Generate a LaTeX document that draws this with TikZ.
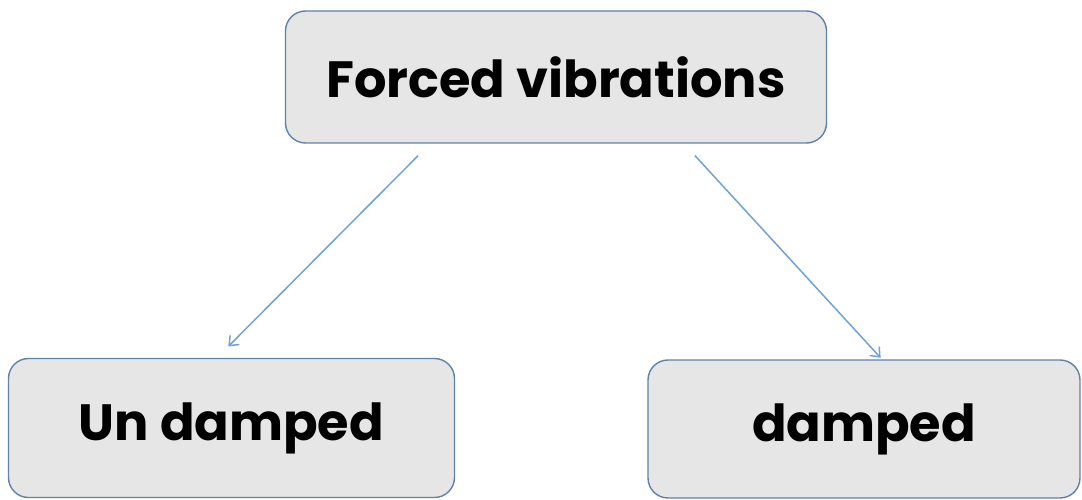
\documentclass[tikz,border=0pt]{standalone}
\usepackage{fontspec}
\setmainfont{Poppins}
\usetikzlibrary{arrows.meta,positioning}
\definecolor{boxfill}{HTML}{E6E6E6}
\definecolor{boxline}{HTML}{5E82AA}
\definecolor{arr}{HTML}{6FA3D8}
\begin{document}
\begin{tikzpicture}[x=1pt,y=1pt,>={Straight Barb[length=8pt,width=13pt]},
  blk/.style={draw=boxline,fill=boxfill,line width=1.4pt,rounded corners=20pt,align=center,inner sep=0pt,font=\fontsize{51}{60}\selectfont\bfseries},
  con/.style={->,draw=arr,line width=1.5pt}]
\useasboundingbox (0,0) rectangle (1082,-500);
\node[blk,minimum width=541pt,minimum height=132pt] (forced) at (556,-77) {Forced vibrations};
\node[blk,minimum width=446pt,minimum height=139pt] (undamped) at (231.5,-428) {Un damped};
\node[blk,minimum width=432pt,minimum height=138pt] (damped) at (864,-429) {damped};
\draw[con,shorten <=17pt,shorten >=16pt] ([xshift=-126pt]forced.south) -- ([xshift=-14.5pt]undamped.north);
\draw[con,shorten <=16pt,shorten >=2pt] ([xshift=128pt]forced.south) -- ([xshift=18pt]damped.north);
\end{tikzpicture}
\end{document}
